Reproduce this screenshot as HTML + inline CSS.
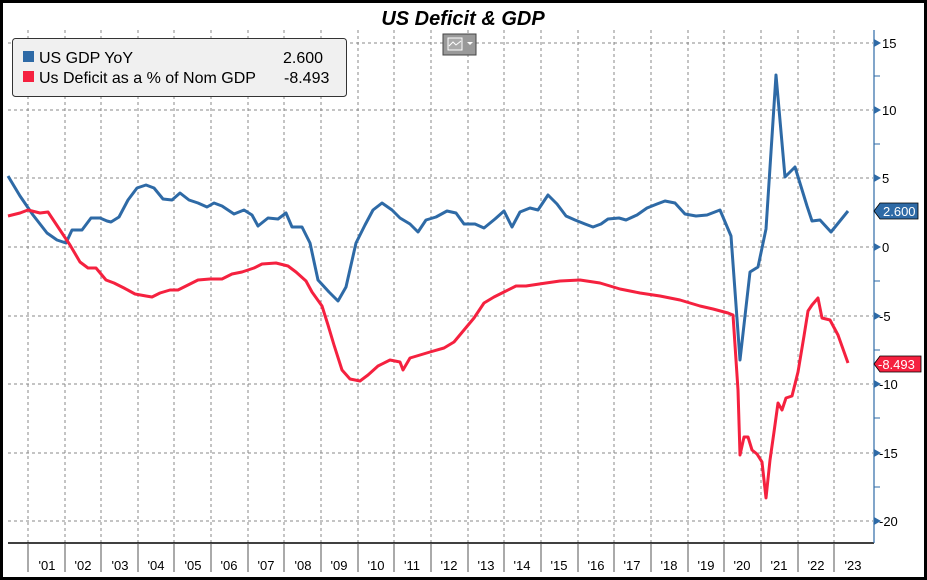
<!DOCTYPE html>
<html><head><meta charset="utf-8"><style>
body{margin:0;background:#fff}
svg{display:block}
text{font-family:"Liberation Sans",sans-serif}
</style></head><body>
<svg width="927" height="580" viewBox="0 0 927 580" xmlns="http://www.w3.org/2000/svg">
<rect x="1.5" y="1.5" width="924" height="577" fill="#fff" stroke="#000" stroke-width="3"/>
<text x="463" y="25" text-anchor="middle" font-size="20" font-weight="bold" font-style="italic">US Deficit &amp; GDP</text>
<g stroke="#888" stroke-width="1" stroke-dasharray="3,3">
<line x1="8" y1="43" x2="873" y2="43"/><line x1="8" y1="110" x2="873" y2="110"/>
<line x1="8" y1="178" x2="873" y2="178"/><line x1="8" y1="247" x2="873" y2="247"/>
<line x1="8" y1="316" x2="873" y2="316"/><line x1="8" y1="384" x2="873" y2="384"/>
<line x1="8" y1="453" x2="873" y2="453"/><line x1="8" y1="521" x2="873" y2="521"/>
<line x1="28" y1="30" x2="28" y2="543"/><line x1="65" y1="30" x2="65" y2="543"/><line x1="101" y1="30" x2="101" y2="543"/><line x1="138" y1="30" x2="138" y2="543"/><line x1="174" y1="30" x2="174" y2="543"/><line x1="211" y1="30" x2="211" y2="543"/><line x1="248" y1="30" x2="248" y2="543"/><line x1="284" y1="30" x2="284" y2="543"/><line x1="321" y1="30" x2="321" y2="543"/><line x1="358" y1="30" x2="358" y2="543"/><line x1="394" y1="30" x2="394" y2="543"/><line x1="431" y1="30" x2="431" y2="543"/><line x1="468" y1="30" x2="468" y2="543"/><line x1="504" y1="30" x2="504" y2="543"/><line x1="541" y1="30" x2="541" y2="543"/><line x1="578" y1="30" x2="578" y2="543"/><line x1="614" y1="30" x2="614" y2="543"/><line x1="651" y1="30" x2="651" y2="543"/><line x1="688" y1="30" x2="688" y2="543"/><line x1="724" y1="30" x2="724" y2="543"/><line x1="761" y1="30" x2="761" y2="543"/><line x1="798" y1="30" x2="798" y2="543"/><line x1="834" y1="30" x2="834" y2="543"/>
</g>
<!-- axes -->
<line x1="8" y1="543" x2="874" y2="543" stroke="#000" stroke-width="1.5"/>
<line x1="874" y1="30" x2="874" y2="543" stroke="#2e6aa6" stroke-width="1.2"/>
<g stroke="#555" stroke-width="1">
<line x1="28" y1="543" x2="28" y2="572"/><line x1="65" y1="543" x2="65" y2="572"/><line x1="101" y1="543" x2="101" y2="572"/><line x1="138" y1="543" x2="138" y2="572"/><line x1="174" y1="543" x2="174" y2="572"/><line x1="211" y1="543" x2="211" y2="572"/><line x1="248" y1="543" x2="248" y2="572"/><line x1="284" y1="543" x2="284" y2="572"/><line x1="321" y1="543" x2="321" y2="572"/><line x1="358" y1="543" x2="358" y2="572"/><line x1="394" y1="543" x2="394" y2="572"/><line x1="431" y1="543" x2="431" y2="572"/><line x1="468" y1="543" x2="468" y2="572"/><line x1="504" y1="543" x2="504" y2="572"/><line x1="541" y1="543" x2="541" y2="572"/><line x1="578" y1="543" x2="578" y2="572"/><line x1="614" y1="543" x2="614" y2="572"/><line x1="651" y1="543" x2="651" y2="572"/><line x1="688" y1="543" x2="688" y2="572"/><line x1="724" y1="543" x2="724" y2="572"/><line x1="761" y1="543" x2="761" y2="572"/><line x1="798" y1="543" x2="798" y2="572"/><line x1="834" y1="543" x2="834" y2="572"/>
</g>
<g font-size="13" text-anchor="middle" fill="#000">
<text x="47" y="570">'01</text><text x="83" y="570">'02</text><text x="120" y="570">'03</text><text x="156" y="570">'04</text><text x="193" y="570">'05</text><text x="229" y="570">'06</text><text x="266" y="570">'07</text><text x="303" y="570">'08</text><text x="339" y="570">'09</text><text x="376" y="570">'10</text><text x="412" y="570">'11</text><text x="449" y="570">'12</text><text x="486" y="570">'13</text><text x="522" y="570">'14</text><text x="559" y="570">'15</text><text x="596" y="570">'16</text><text x="632" y="570">'17</text><text x="669" y="570">'18</text><text x="706" y="570">'19</text><text x="742" y="570">'20</text><text x="779" y="570">'21</text><text x="816" y="570">'22</text><text x="853" y="570">'23</text>
</g>
<g fill="#2e6aa6">
<path d="M874 39 l7 4 l-7 4z"/><path d="M874 106 l7 4 l-7 4z"/><path d="M874 174 l7 4 l-7 4z"/><path d="M874 243 l7 4 l-7 4z"/><path d="M874 312 l7 4 l-7 4z"/><path d="M874 380 l7 4 l-7 4z"/><path d="M874 449 l7 4 l-7 4z"/><path d="M874 517 l7 4 l-7 4z"/>
</g>
<g stroke="#2e6aa6"><line x1="874" y1="76" x2="880" y2="76"/><line x1="874" y1="144" x2="880" y2="144"/><line x1="874" y1="281" x2="880" y2="281"/><line x1="874" y1="350" x2="880" y2="350"/><line x1="874" y1="418" x2="880" y2="418"/><line x1="874" y1="487" x2="880" y2="487"/></g>
<g font-size="13" fill="#000">
<text x="882" y="48">15</text><text x="882" y="115">10</text><text x="882" y="183">5</text><text x="882" y="252">0</text><text x="879" y="321">-5</text><text x="879" y="389">-10</text><text x="879" y="458">-15</text><text x="879" y="526">-20</text>
</g>
<polyline fill="none" stroke="#2e6aa6" stroke-width="3" stroke-linejoin="round" points="8,176 20,196 33,215 47,233 57,240 66,243 72,230 82,230 91,218 100,218 107,221 111,222 119,217 128,200 137,188 146,185 154,188 163,199 172,200 180,193 189,200 198,203 207,207 214,203 222,206 234,214 244,210 252,215 258,226 268,218 278,219 286,213 292,227 302,227 310,243 318,280 329,292 338,301 346,287 356,243 365,225 373,210 382,203 392,210 400,218 410,224 418,232 426,220 436,217 447,211 456,213 464,224 475,224 484,228 495,219 504,211 512,227 520,212 530,208 538,210 548,195 557,204 566,216 575,220 585,224 593,227 601,224 608,219 619,218 626,220 637,215 647,208 657,204 665,201 675,203 685,214 696,216 707,215 720,210 731,236 740,360 750,272 758,267 766,229 776,75 785,177 795,167 807,206 812,221 820,220 831,232 848,211"/>
<polyline fill="none" stroke="#f5213f" stroke-width="3" stroke-linejoin="round" points="8,216 20,213 28,210 40,213 48,212 60,230 70,245 80,262 88,268 96,268 106,280 114,283 124,288 135,294 146,296 152,297 160,293 170,290 178,290 188,285 198,280 210,279 222,279 232,274 242,272 254,268 262,264 276,263 288,266 296,272 306,281 312,292 322,306 328,325 334,345 342,370 350,379 360,381 368,375 378,366 390,360 400,362 403,370 410,358 420,355 430,352 444,348 454,342 464,330 474,318 484,303 494,297 504,292 516,286 526,286 546,283 560,281 580,280 600,283 620,289 640,293 660,296 680,300 700,306 713,309 728,313 733,315 738,390 740,455 744,437 748,437 752,450 757,454 762,462 766,498 770,460 774,432 778,403 782,410 786,398 792,396 798,372 804,336 808,311 812,305 818,298 822,318 830,320 838,335 848,363"/>
<!-- value tags -->
<path d="M874 211 l6 -8 h38 v16 h-38z" fill="#2e6aa6" stroke="#000" stroke-width="0.8"/>
<text x="883" y="216" font-size="13" fill="#fff">2.600</text>
<path d="M874 364 l6 -8 h41 v16 h-41z" fill="#f5213f" stroke="#000" stroke-width="0.8"/>
<text x="878" y="369" font-size="13" fill="#fff">-8.493</text>
<!-- legend -->
<rect x="12.5" y="38.5" width="334" height="58" rx="3" fill="#f0f0f0" stroke="#333"/>
<rect x="23" y="51" width="11" height="11" fill="#2e6aa6"/>
<rect x="23" y="71" width="11" height="11" fill="#f5213f"/>
<g font-size="16" fill="#000">
<text x="39" y="63">US GDP YoY</text><text x="283" y="63">2.600</text>
<text x="39" y="83">Us Deficit as a % of Nom GDP</text><text x="284" y="83">-8.493</text>
</g>
<rect x="443" y="34" width="33" height="21" fill="#999" stroke="#444"/>
<rect x="448" y="38" width="14" height="12" fill="#aaa" stroke="#fff"/>
<path d="M449 46 l4 -4 l3 3 l5 -4" fill="none" stroke="#fff"/>
<path d="M467 42 h6 l-3 3z" fill="#fff"/>
</svg>
</body></html>
